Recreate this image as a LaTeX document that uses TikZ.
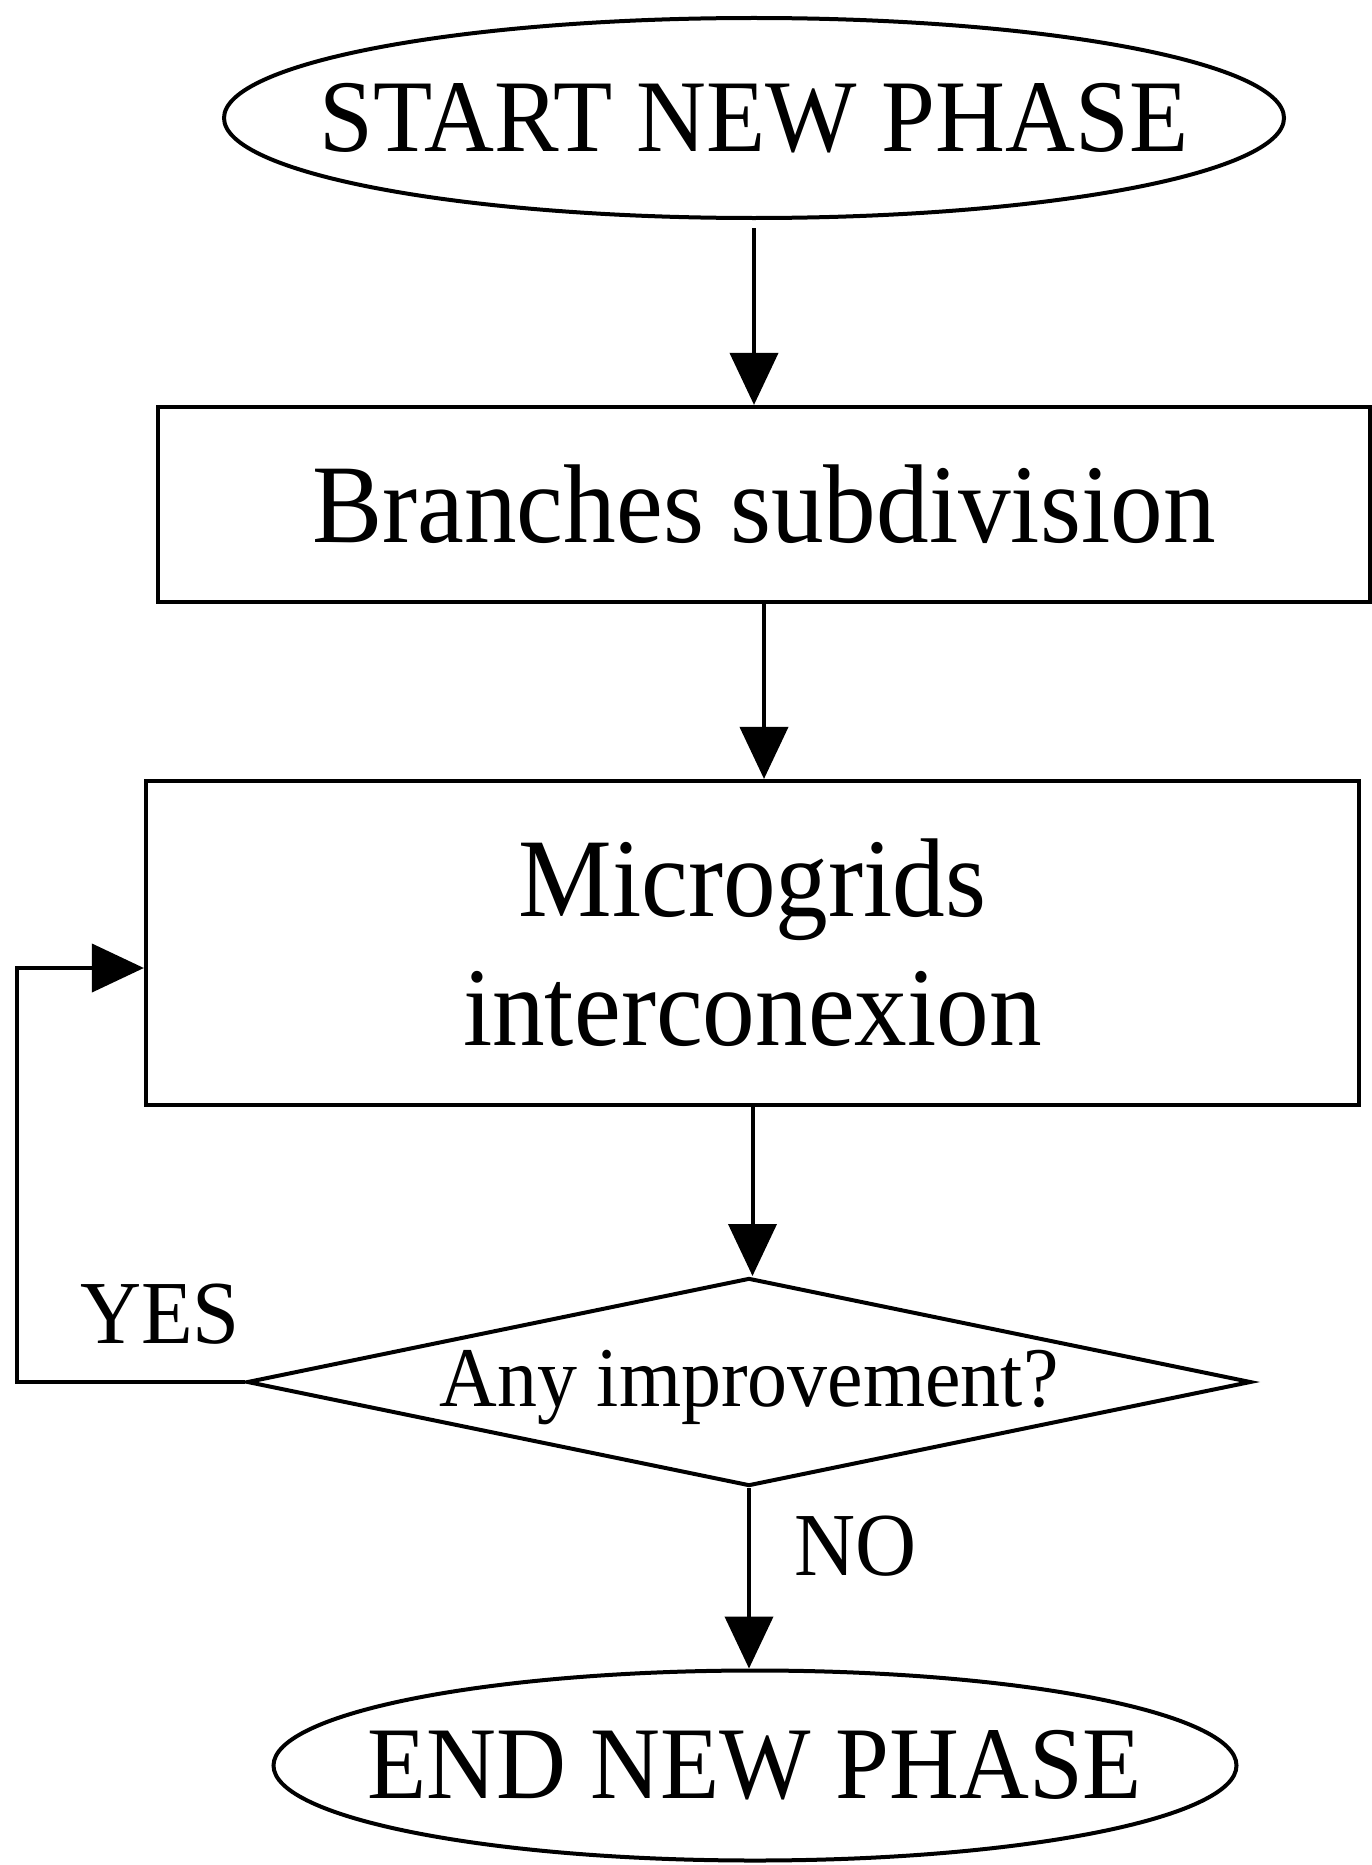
\documentclass[tikz,border=0pt]{standalone}
\usepackage{fontspec}
\setmainfont{Liberation Serif}[FakeStretch=0.94]
\usetikzlibrary{shapes.geometric,arrows.meta}
\begin{document}
\begin{tikzpicture}[x=1pt,y=1pt,
  every node/.style={inner sep=0pt},
  terminal/.style={draw,ellipse,line width=4pt},
  tlabel/.style={font=\fontsize{103}{118}\selectfont},
  process/.style={draw,rectangle,line width=4.2pt,align=center,font=\fontsize{112}{129}\selectfont},
  decision/.style={draw,diamond,line width=4pt},
  dlabel/.style={font=\fontsize{85}{98}\selectfont,yshift=-6pt},
  answer/.style={font=\fontsize{90}{104}\selectfont},
  arr/.style={line width=4pt,-{Triangle[length=52pt,width=48pt]}}]
\useasboundingbox (0,0) rectangle (1372,-1865);
\node[terminal,minimum width=1060pt,minimum height=200pt,label={[tlabel]center:START NEW PHASE}] (start) at (754,-118) {};
\node[process,minimum width=1212pt,minimum height=195pt] (box1) at (764,-504.5) {Branches subdivision};
\node[process,minimum width=1213pt,minimum height=324pt] (box2) at (752.5,-943) {Microgrids\\interconexion};
\node[decision,minimum width=1004pt,minimum height=208pt,label={[dlabel]center:Any improvement?}] (dia) at (749,-1382) {};
\node[terminal,minimum width=963pt,minimum height=190pt,label={[tlabel]center:END NEW PHASE}] (end) at (755,-1765.5) {};
\node[answer] (yes) at (160,-1314) {YES};
\node[answer] (no) at (856,-1546) {NO};
\coordinate (c1) at (17,-1382);
\coordinate (c2) at (17,-968);
\draw[arr] ([yshift=-8pt]start.south) -- (start.south |- box1.north);
\draw[arr] (box1.south) -- (box1.south |- box2.north);
\draw[arr] (box2.south) -- (box2.south |- dia.north);
\draw[arr] (dia.south) -- (dia.south |- end.north);
\draw[arr,line join=miter] (dia.west) -- (c1) -- (c2) -- (c2 -| box2.west);
\end{tikzpicture}
\end{document}
